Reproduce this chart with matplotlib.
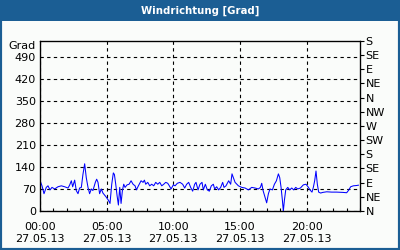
import matplotlib.pyplot as plt
from matplotlib.patches import Rectangle
import numpy as np

# Windrichtung over one day (hours since 00:00, degrees), 10 values per row
hours = [0.0, 0.05, 0.15, 0.3, 0.47, 0.6, 0.75, 0.9, 1.1, 1.35,
         1.6, 1.85, 2.1, 2.22, 2.35, 2.45, 2.6, 2.72, 2.85, 2.97,
         3.1, 3.22, 3.35, 3.47, 3.6, 3.72, 3.85, 3.97, 4.15, 4.25,
         4.35, 4.47, 4.6, 4.72, 4.97,
         5.13, 5.25, 5.38, 5.5, 5.58, 5.68, 5.78, 5.88, 5.98, 6.08,
         6.18, 6.28, 6.38, 6.53, 6.68, 6.83, 6.98, 7.13, 7.23, 7.38,
         7.58, 7.73, 7.83, 7.93, 8.08, 8.23, 8.38, 8.53, 8.68, 8.83,
         8.98, 9.13, 9.28, 9.43, 9.58, 9.7, 9.83, 10.0,
         10.13, 10.3, 10.5, 10.7, 10.85, 11.0, 11.15, 11.3, 11.45, 11.6,
         11.7, 11.85, 12.0, 12.15, 12.25, 12.4, 12.55, 12.7, 12.85, 13.0,
         13.1, 13.25, 13.4, 13.55, 13.7, 13.8, 13.95, 14.15, 14.3, 14.4,
         14.5, 14.63,
         14.88, 15.13, 15.38, 15.63, 15.88, 16.13, 16.38, 16.53, 16.63, 16.73,
         16.88, 17.0, 17.13, 17.25, 17.43, 17.58, 17.73, 17.88, 17.98, 18.08,
         18.18, 18.25, 18.33, 18.43, 18.58, 18.73, 18.88, 19.03, 19.18, 19.33,
         19.53, 19.75,
         19.95, 20.1, 20.25, 20.4, 20.5, 20.6, 20.7, 20.8, 20.9, 21.05,
         21.2, 21.5, 21.88, 22.25, 22.75, 23.0, 23.13, 23.3, 23.5, 23.75,
         23.88]
direction = [88, 91, 80, 55, 75, 80, 67, 75, 70, 77,
             80, 77, 73, 82, 96, 77, 98, 65, 55, 73,
             75, 116, 150, 106, 75, 55, 70, 65, 91, 101,
             91, 55, 70, 57, 44,
             34, 24, 85, 121, 116, 85, 49, 19, 75, 24,
             65, 85, 75, 83, 85, 96, 85, 80, 67, 80,
             96, 91, 98, 85, 91, 80, 85, 80, 91, 85,
             91, 80, 85, 91, 88, 80, 70, 83,
             80, 88, 91, 85, 73, 85, 91, 75, 63, 85,
             91, 67, 85, 91, 67, 85, 67, 63, 80, 85,
             70, 77, 67, 75, 91, 75, 80, 96, 85, 118,
             106, 91,
             80, 75, 73, 67, 75, 73, 70, 75, 88, 65,
             44, 26, 55, 70, 67, 85, 96, 118, 106, 75,
             34, 0, 34, 67, 75, 67, 73, 67, 75, 70,
             73, 83,
             85, 77, 67, 60, 75, 96, 127, 85, 60, 57,
             59, 61, 60, 60, 59, 58, 65, 77, 80, 81,
             82]

left_ticks = [0, 70, 140, 210, 280, 350, 420, 490]
right_ticks = list(range(0, 541, 45))
right_labels = ['N', 'NE', 'E', 'SE', 'S', 'SW', 'W', 'NW', 'N', 'NE', 'E', 'SE', 'S']
x_ticks = [0, 5, 10, 15, 20]
x_labels = ['00:00\n27.05.13', '05:00\n27.05.13', '10:00\n27.05.13',
            '15:00\n27.05.13', '20:00\n27.05.13']

frame_blue = '#1b5e94'
bg = '#fafcfa'

fig = plt.figure(figsize=(4, 2.5), dpi=100, facecolor=bg)

# blue frame and title bar
fig.patches.append(Rectangle((0, 0), 1, 1, transform=fig.transFigure, fill=False,
                             ec=frame_blue, lw=3, zorder=0))
fig.patches.append(Rectangle((0, 1 - 21 / 250), 1, 21 / 250, transform=fig.transFigure,
                             fc=frame_blue, ec='none', zorder=1))
fig.text(0.5, 1 - 10.5 / 250, 'Windrichtung [Grad]', color='white', fontsize=7.3,
         fontweight='bold', ha='center', va='center')

ax = fig.add_axes([40 / 400, 39 / 250, 320 / 400, 170 / 250])
ax.set_facecolor(bg)
ax.plot(hours, direction, color='#0000ff', lw=0.75, zorder=3)

ax.set_xlim(0, 24)
ax.set_ylim(0, 540)

ax.set_yticks(left_ticks)
ax.tick_params(axis='y', which='major', length=0, pad=3, labelsize=8)
ax.set_xticks(x_ticks)
ax.set_xticklabels(x_labels)
ax.set_xticks(np.arange(0, 25, 1), minor=True)
ax.tick_params(axis='x', which='both', direction='in', length=2.5, width=0.8,
               pad=8, labelsize=8)

ax.grid(True, which='major', color='black', linestyle=(0, (3, 3)), lw=0.8)
for s in ax.spines.values():
    s.set_linewidth(0.9)

ax.text(-0.35, 540, 'Grad', ha='right', va='top', fontsize=8)

ax2 = ax.twinx()
ax2.set_ylim(0, 540)
ax2.set_yticks(right_ticks)
ax2.set_yticklabels(right_labels)
ax2.tick_params(axis='y', direction='out', length=3, width=0.8, pad=1, labelsize=8)

plt.savefig('out.png', dpi=100, facecolor=bg)
